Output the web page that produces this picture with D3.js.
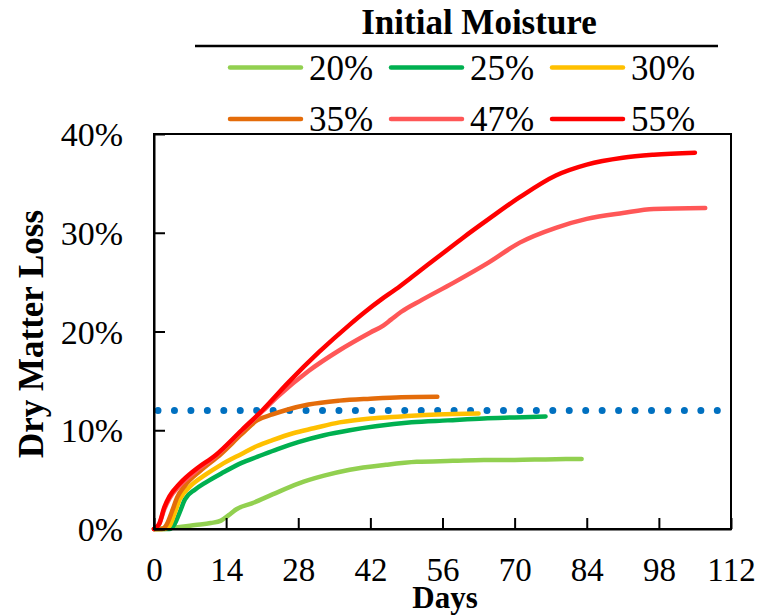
<!DOCTYPE html>
<html>
<head>
<meta charset="utf-8">
<script src="https://cdn.jsdelivr.net/npm/d3@7"></script>
<style>
  html, body { margin: 0; padding: 0; background: #fff; }
  svg { display: block; }
  svg text { font-family: 'Liberation Serif', 'DejaVu Serif', 'Times New Roman', Times, serif !important; fill: #000; }
</style>
</head>
<body>
<svg id="chart" width="774" height="615"></svg>
<script>
// ---------- data ----------
const seriesNames = ["20%", "25%", "30%", "35%", "47%", "55%"];
const seriesColors = ["#92D050", "#00B050", "#FFC000", "#E46C0A", "#FF5757", "#FF0000"];

const days20 = [0, 2, 5, 8, 11, 13, 14.5, 16, 19, 23, 28, 33, 38, 45, 51, 58, 64, 70, 76, 83];
const dml20  = [0, 0.05, 0.2, 0.4, 0.6, 0.85, 1.4, 2.0, 2.6, 3.5, 4.6, 5.4, 6.0, 6.5, 6.8, 6.9, 7.0, 7.0, 7.05, 7.1];

const days25 = [0, 3, 4, 5, 6, 8, 10, 13, 17, 20, 24, 28, 33, 38, 43, 50, 57, 64, 70, 76];
const dml25  = [0, 0, 0.5, 1.7, 3.0, 4.0, 4.7, 5.6, 6.7, 7.3, 8.1, 8.8, 9.5, 10.0, 10.4, 10.8, 11.0, 11.2, 11.3, 11.4];

const days30 = [0, 2, 3, 4, 5, 7, 10, 13, 17, 20, 23, 27, 31, 36, 42, 48, 55, 63];
const dml30  = [0, 0, 0.3, 1.6, 3.0, 4.3, 5.5, 6.5, 7.6, 8.4, 9.0, 9.7, 10.2, 10.8, 11.2, 11.4, 11.6, 11.7];

const days35 = [0, 1.5, 2.5, 3.5, 4.5, 6, 9, 13, 17, 20, 23, 26, 30, 36, 42, 48, 55];
const dml35  = [0, 0, 0.5, 1.8, 3.2, 4.4, 5.9, 7.6, 9.6, 11.0, 11.6, 12.1, 12.6, 13.0, 13.2, 13.35, 13.4];

const days47 = [0, 1, 2, 3, 5, 8, 12, 17, 21, 24, 30, 36, 42, 44.5, 46, 48, 52, 58, 65, 71, 78, 84, 91, 97, 107];
const dml47  = [0, 0.5, 2.0, 3.1, 4.4, 5.8, 7.4, 9.9, 11.9, 13.4, 16.0, 18.1, 19.9, 20.6, 21.2, 22.0, 23.2, 24.9, 27.0, 29.0, 30.5, 31.4, 32.0, 32.4, 32.5];

const days55 = [0, 1, 2, 3, 5, 8, 12, 17, 21, 26, 32, 38, 41, 44, 47, 50, 53, 56, 60, 65, 71, 78, 84, 91, 97, 105];
const dml55  = [0, 0.5, 2.2, 3.3, 4.6, 6.0, 7.5, 10.0, 12.0, 14.8, 17.9, 20.7, 22.0, 23.2, 24.3, 25.5, 26.7, 27.9, 29.5, 31.4, 33.6, 35.8, 36.9, 37.6, 37.9, 38.1];

const xTicks = [0, 14, 28, 42, 56, 70, 84, 98, 112];
const yTicks = [0, 10, 20, 30, 40];
const yTickLabels = ["0%", "10%", "20%", "30%", "40%"];
const threshold = 12;

const legendTitle = "Initial Moisture";
const xTitle = "Days";
const yTitle = "Dry Matter Loss";

const allDays = [days20, days25, days30, days35, days47, days55];
const allDml = [dml20, dml25, dml30, dml35, dml47, dml55];

// ---------- layout ----------
const FONT = "'Liberation Serif', 'DejaVu Serif', 'Times New Roman', Times, serif";
const svg = d3.select("#chart");
const plot = { left: 154, right: 731, top: 134, bottom: 529 };

const x = d3.scaleLinear().domain([0, 112]).range([plot.left, plot.right]);
const y = d3.scaleLinear().domain([0, 40]).range([plot.bottom, plot.top]);

const defs = svg.append("defs");
const blur = defs.append("filter").attr("id", "glow")
  .attr("x", "-5%").attr("y", "-300%").attr("width", "110%").attr("height", "700%");
blur.append("feGaussianBlur").attr("stdDeviation", 3.5);

// threshold glow + dotted line
svg.append("line")
  .attr("x1", x(0) - 2).attr("x2", x(112) + 4)
  .attr("y1", y(threshold) + 8).attr("y2", y(threshold) + 8)
  .attr("stroke", "#B4D0EC").attr("stroke-width", 11).attr("opacity", 0.85)
  .attr("filter", "url(#glow)");

svg.append("line")
  .attr("x1", x(0) + 4).attr("x2", x(112) - 8)
  .attr("y1", y(threshold)).attr("y2", y(threshold))
  .attr("stroke", "#0070C0").attr("stroke-width", 7)
  .attr("stroke-linecap", "round")
  .attr("stroke-dasharray", "0 16.45");

// series lines
const line = d3.line()
  .x(d => x(d[0]))
  .y(d => y(d[1]))
  .curve(d3.curveMonotoneX);

seriesNames.forEach((name, i) => {
  const pts = allDays[i].map((d, j) => [d, allDml[i][j]]);
  svg.append("path")
    .datum(pts)
    .attr("d", line)
    .attr("fill", "none")
    .attr("stroke", seriesColors[i])
    .attr("stroke-width", 4.5)
    .attr("stroke-linecap", "round")
    .attr("stroke-linejoin", "round");
});

// frame
svg.append("rect")
  .attr("x", plot.left).attr("y", plot.top)
  .attr("width", plot.right - plot.left).attr("height", plot.bottom - plot.top)
  .attr("fill", "none").attr("stroke", "#000").attr("stroke-width", 2);

// axes with inward ticks
const xAxis = d3.axisBottom(x).tickValues(xTicks).tickSizeInner(-11).tickSizeOuter(0).tickPadding(0).tickFormat(d3.format("d"));
const gx = svg.append("g").attr("transform", `translate(0,${plot.bottom})`).call(xAxis)
  .attr("font-family", FONT).attr("font-size", 33);
gx.select(".domain").attr("stroke", "#000").attr("stroke-width", 2);
gx.selectAll(".tick line").attr("stroke", "#000").attr("stroke-width", 2);
gx.selectAll(".tick text")
  .attr("y", 52).attr("dy", 0)
  .style("font-family", FONT)
  .attr("font-size", 33)
  .attr("fill", "#000");

const yAxis = d3.axisLeft(y).tickValues(yTicks).tickSizeInner(-11).tickSizeOuter(0).tickPadding(0)
  .tickFormat((d, i) => yTickLabels[i]);
const gy = svg.append("g").attr("transform", `translate(${plot.left},0)`).call(yAxis)
  .attr("font-family", FONT).attr("font-size", 34);
gy.select(".domain").attr("stroke", "#000").attr("stroke-width", 2);
gy.selectAll(".tick line").attr("stroke", "#000").attr("stroke-width", 2);
gy.selectAll(".tick text")
  .attr("x", -31).attr("dy", "0.34em")
  .style("font-family", FONT)
  .attr("font-size", 34)
  .attr("fill", "#000");

// axis titles
svg.append("text")
  .attr("x", 445).attr("y", 608)
  .attr("text-anchor", "middle")
  .style("font-family", FONT)
  .attr("font-size", 31).attr("font-weight", "bold")
  .text(xTitle);

svg.append("text")
  .attr("transform", `translate(43,334) rotate(-90)`)
  .attr("text-anchor", "middle")
  .style("font-family", FONT)
  .attr("font-size", 35).attr("font-weight", "bold")
  .text(yTitle);

// legend
svg.append("text")
  .attr("x", 479).attr("y", 34)
  .attr("text-anchor", "middle")
  .style("font-family", FONT)
  .attr("font-size", 35).attr("font-weight", "bold")
  .text(legendTitle);

svg.append("line")
  .attr("x1", 195).attr("x2", 718)
  .attr("y1", 46).attr("y2", 46)
  .attr("stroke", "#000").attr("stroke-width", 2.5);

const colX = [230, 391, 552];
const rowY = [67.5, 119];
seriesNames.forEach((name, i) => {
  const cx = colX[i % 3], cy = rowY[Math.floor(i / 3)];
  const g = svg.append("g");
  g.append("line")
    .attr("x1", cx).attr("x2", cx + 71)
    .attr("y1", cy).attr("y2", cy)
    .attr("stroke", seriesColors[i]).attr("stroke-width", 4.5)
    .attr("stroke-linecap", "round");
  g.append("text")
    .attr("x", cx + 79).attr("y", cy + 12)
    .style("font-family", FONT)
    .attr("font-size", 35)
    .text(name);
});
</script>
</body>
</html>
